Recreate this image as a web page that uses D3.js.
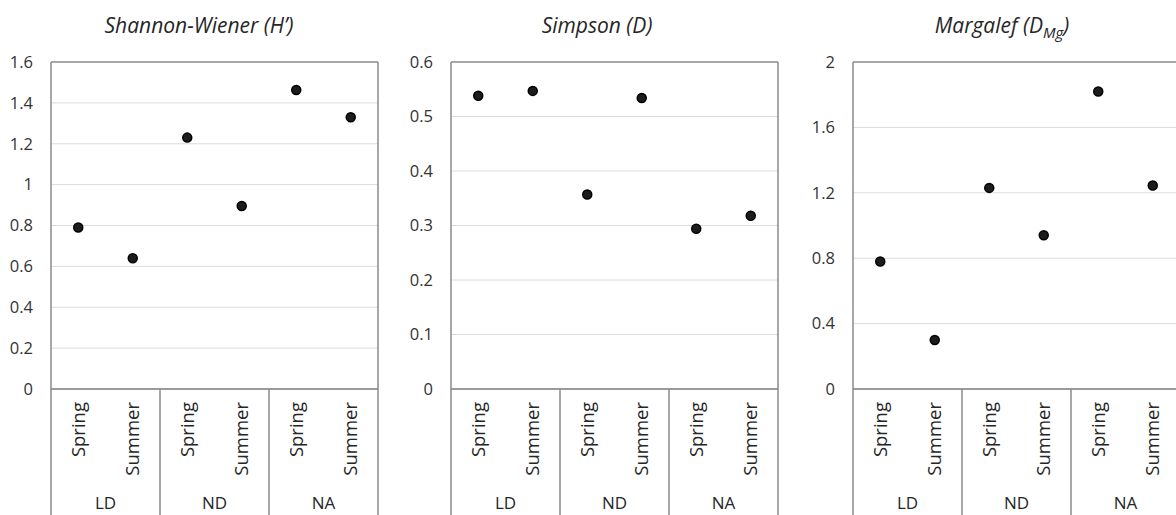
<!DOCTYPE html>
<html>
<head>
<meta charset="utf-8">
<script src="https://cdn.jsdelivr.net/npm/d3@7"></script>
<style>
  body { margin: 0; background: #fff; }
  svg { display: block; font-family: "Open Sans", sans-serif; }
</style>
</head>
<body>
<svg id="chart" width="1176" height="515"></svg>
<script>
// data
var sites = ["LD", "ND", "NA"];
var seasons = ["Spring", "Summer"];

var shannonValues = [0.79, 0.64, 1.23, 0.895, 1.463, 1.33];
var simpsonValues = [0.538, 0.547, 0.357, 0.534, 0.294, 0.318];
var margalefValues = [0.78, 0.30, 1.23, 0.94, 1.82, 1.245];

var shannonTicks = [0, 0.2, 0.4, 0.6, 0.8, 1, 1.2, 1.4, 1.6];
var simpsonTicks = [0, 0.1, 0.2, 0.3, 0.4, 0.5, 0.6];
var margalefTicks = [0, 0.4, 0.8, 1.2, 1.6, 2];

function init() {
    var svg = d3.select("#chart");

    var top = 62, zero = 389, bottom = 515, pw = 327;

    var panels = [
        { left: 51, titleX: 199, values: shannonValues, ticks: shannonTicks, title: "Shannon-Wiener (H\u2019)" },
        { left: 451, titleX: 597, values: simpsonValues, ticks: simpsonTicks, title: "Simpson (D)" },
        { left: 853, titleX: 1002, values: margalefValues, ticks: margalefTicks, title: "Margalef (D", sub: "Mg" }
    ];

    // one row per point: site + season
    var cats = [];
    sites.forEach(function(s) {
        seasons.forEach(function(se) { cats.push(s + "|" + se); });
    });

    panels.forEach(function(p) {
        var g = svg.append("g");

        var x = d3.scaleBand().domain(cats).range([p.left, p.left + pw]).padding(0);
        var xSite = d3.scaleBand().domain(sites).range([p.left, p.left + pw]).padding(0);
        var y = d3.scaleLinear()
            .domain([0, d3.max(p.ticks)])
            .range([zero, top]);

        // gridlines
        g.selectAll("line.grid")
            .data(p.ticks.slice(1, -1))
            .enter()
            .append("line")
            .attr("class", "grid")
            .attr("x1", p.left).attr("x2", p.left + pw)
            .attr("y1", function(d) { return y(d); })
            .attr("y2", function(d) { return y(d); })
            .attr("stroke", "#dcdcdc")
            .attr("stroke-width", 1);

        // y axis labels
        var yAxis = d3.axisLeft(y)
            .tickValues(p.ticks)
            .tickSize(0)
            .tickPadding(18)
            .tickFormat(function(d) { return String(d); });
        var ya = g.append("g")
            .attr("transform", "translate(" + p.left + ",0)")
            .call(yAxis);
        ya.select(".domain").remove();
        ya.selectAll("text")
            .attr("fill", "#333")
            .style("font-size", "16.5px")
            .style("font-family", "Open Sans, sans-serif");

        // plot frame: top, baseline, and the full-height side lines
        var frame = "#8a8a8a";
        g.append("line")
            .attr("x1", p.left).attr("x2", p.left + pw)
            .attr("y1", top).attr("y2", top)
            .attr("stroke", frame).attr("stroke-width", 1.5);
        g.append("line")
            .attr("x1", p.left).attr("x2", p.left + pw)
            .attr("y1", zero).attr("y2", zero)
            .attr("stroke", "#7a7a7a").attr("stroke-width", 1.5);

        var seps = sites.map(function(s) { return xSite(s); }).concat([p.left + pw]);
        g.selectAll("line.sep")
            .data(seps)
            .enter()
            .append("line")
            .attr("class", "sep")
            .attr("x1", function(d) { return d; })
            .attr("x2", function(d) { return d; })
            .attr("y1", function(d, i) { return (i === 0 || i === seps.length - 1) ? top : zero; })
            .attr("y2", bottom)
            .attr("stroke", frame)
            .attr("stroke-width", 1.5);

        // season labels (rotated)
        g.selectAll("text.season")
            .data(cats)
            .enter()
            .append("text")
            .attr("class", "season")
            .attr("transform", function(d) {
                return "translate(" + (x(d) + x.bandwidth() / 2) + "," + 402 + ") rotate(-90)";
            })
            .attr("dy", "0.35em")
            .attr("text-anchor", "end")
            .attr("fill", "#262626")
            .style("font-size", "18.5px")
            .text(function(d) { return d.split("|")[1]; });

        // site labels
        g.selectAll("text.site")
            .data(sites)
            .enter()
            .append("text")
            .attr("class", "site")
            .attr("x", function(d) { return xSite(d) + xSite.bandwidth() / 2; })
            .attr("y", 509)
            .attr("text-anchor", "middle")
            .attr("fill", "#262626")
            .style("font-size", "17px")
            .text(function(d) { return d; });

        // points
        g.selectAll("circle.pt")
            .data(p.values)
            .enter()
            .append("circle")
            .attr("class", "pt")
            .attr("cx", function(d, i) { return x(cats[i]) + x.bandwidth() / 2; })
            .attr("cy", function(d) { return y(d); })
            .attr("r", 4.5)
            .attr("fill", "#1c1c1c")
            .attr("stroke", "#000")
            .attr("stroke-width", 1.5);

        // title
        var t = g.append("text")
            .attr("x", p.titleX)
            .attr("y", 33)
            .attr("text-anchor", "middle")
            .attr("fill", "#262626")
            .style("font-size", "21px")
            .style("font-style", "italic")
            .text(p.title);
        if (p.sub) {
            t.append("tspan")
                .attr("dy", 5)
                .style("font-size", "15px")
                .text(p.sub);
            t.append("tspan")
                .attr("dy", -5)
                .text(")");
        }
    });
}

window.addEventListener("load", init);
</script>
</body>
</html>
